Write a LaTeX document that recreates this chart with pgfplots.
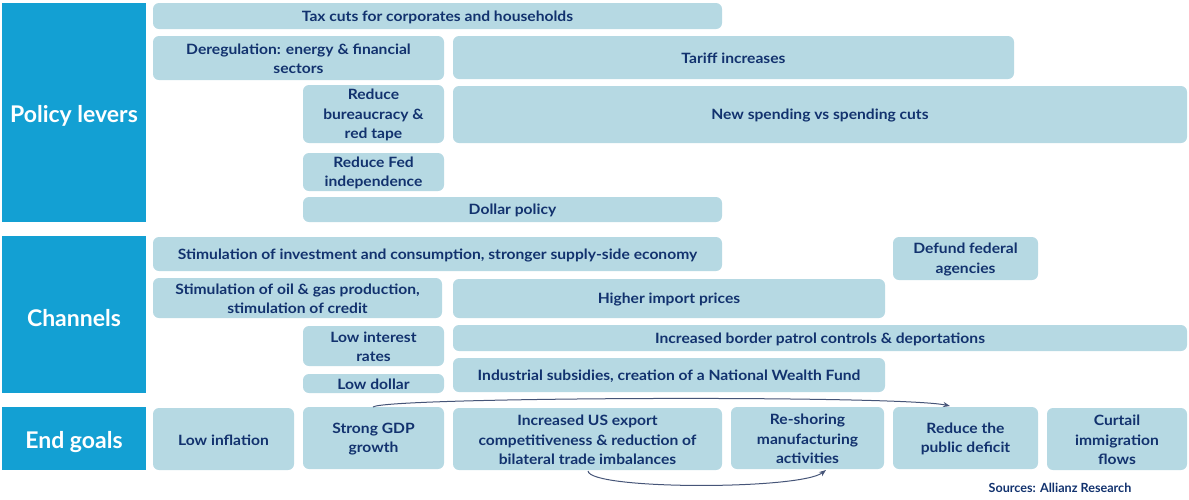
\documentclass[border=0pt]{standalone}
\usepackage{pgfplots}
\pgfplotsset{compat=1.18}
\usetikzlibrary{arrows.meta}
\usepackage{fontspec}
\setmainfont{Lato}
\newfontfamily\boxfont[FakeStretch=1.1]{Lato}
\definecolor{hdr}{RGB}{19,160,211}
\definecolor{boxc}{RGB}{182,217,227}
\definecolor{txtc}{RGB}{18,50,110}
\definecolor{arrc}{RGB}{70,85,120}
% box: x1 y1 x2 y2 (pixels, y down) and text
\newcommand\bx[5]{\path[fill=boxc, rounded corners=3pt] (axis cs:#1,#2) rectangle (axis cs:#3,#4)
  node[midway, yshift=-0.5pt, align=center, text=txtc, inner sep=0pt, font=\boxfont\fontsize{7.1}{9.7}\selectfont\bfseries] {#5};}
\newcommand\hd[5]{\path[fill=hdr] (axis cs:#1,#2) rectangle (axis cs:#3,#4)
  node[midway, yshift=-1.6pt, align=center, text=white, inner sep=0pt, font=\fontsize{11.5}{13}\selectfont\bfseries] {#5};}
\begin{document}
\begin{tikzpicture}
\begin{axis}[
    hide axis,
    scale only axis,
    width=594.5pt, height=247.5pt,
    xmin=0, xmax=1189, ymin=0, ymax=495,
    y dir=reverse,
    clip=false]
\path (axis cs:0,0) rectangle (axis cs:1189,495);
% row headers
\hd{2}{3}{146}{222}{Policy levers}
\hd{2}{236}{146}{393}{Channels}
\hd{2}{407}{146}{470}{End goals}
% policy levers
\bx{153}{3}{722}{29}{Tax cuts for corporates and households}
\bx{153}{36}{444}{80}{Deregulation: energy \& financial\\sectors}
\bx{453}{36}{1014}{79}{Tariff increases}
\bx{303}{85}{444}{143}{Reduce\\bureaucracy \&\\red tape}
\bx{453}{86}{1187}{143}{New spending vs spending cuts}
\bx{303}{153}{444}{191}{Reduce Fed\\independence}
\bx{303}{197}{722}{222}{Dollar policy}
% channels
\bx{153}{237}{722}{271}{Stimulation of investment and consumption, stronger supply-side economy}
\bx{893}{237}{1038}{280}{Defund federal\\agencies}
\bx{153}{278}{442}{318}{Stimulation of oil \& gas production,\\stimulation of credit}
\bx{453}{279}{885}{318}{Higher import prices}
\bx{303}{326}{444}{366}{Low interest\\rates}
\bx{453}{325}{1187}{351}{Increased border patrol controls \& deportations}
\bx{303}{374}{444}{393}{Low dollar}
\bx{453}{358}{885}{392}{Industrial subsidies, creation of a National Wealth Fund}
% end goals
\bx{153}{408}{294}{470}{Low inflation}
\bx{303}{407}{444}{469}{Strong GDP\\growth}
\bx{453}{408}{722}{470}{Increased US export\\competitiveness \& reduction of\\bilateral trade imbalances}
\bx{731}{407}{884}{469}{Re-shoring\\manufacturing\\activities}
\bx{893}{407}{1038}{469}{Reduce the\\public deficit}
\bx{1047}{408}{1187}{470}{Curtail\\immigration\\flows}
% arrows
\draw[arrc, line width=0.5pt, -{Stealth[length=3.5pt]}] (axis cs:373,407) .. controls (axis cs:385,397) and (axis cs:900,395) .. (axis cs:950,406);
\draw[arrc, line width=0.5pt, -{Stealth[length=3.5pt]}] (axis cs:588,471) .. controls (axis cs:590,490) and (axis cs:800,490) .. (axis cs:826,470);
\node[text=txtc, font=\fontsize{6.3}{7}\selectfont\bfseries] at (axis cs:1060,488) {Sources: Allianz Research};
\end{axis}
\end{tikzpicture}
\end{document}
